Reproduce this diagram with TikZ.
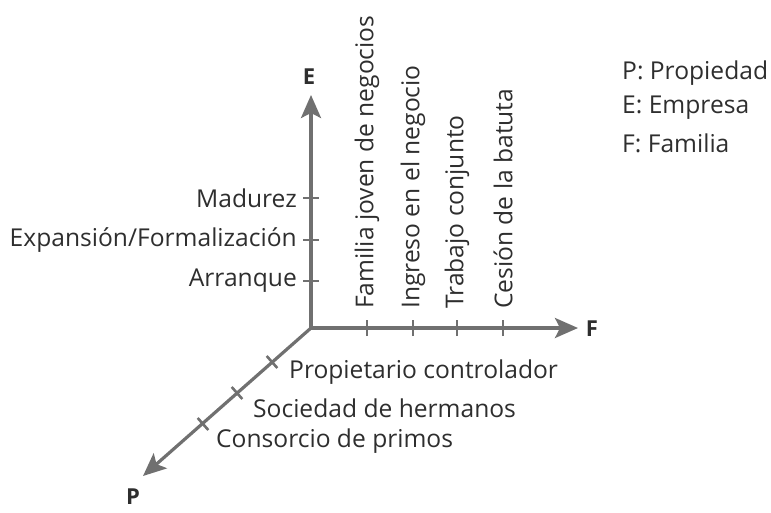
\documentclass[tikz,border=0pt]{standalone}
\usepackage{fontspec}
\setmainfont{Open Sans}
\usetikzlibrary{arrows.meta,calc}
\definecolor{axisgray}{HTML}{707070}
\definecolor{txt}{HTML}{2E2E2E}
\tikzset{
  axis/.style={draw=axisgray, line width=3.2pt, -{Stealth[length=23pt,width=20pt,inset=5pt]}},
  tick/.style={draw=axisgray, line width=2.6pt},
  lbl/.style={text=txt, font=\fontsize{24.6}{29}\selectfont, inner sep=0pt},
  axname/.style={text=txt, font=\fontsize{22}{26}\selectfont\bfseries, inner sep=0pt},
}
\begin{document}
\begin{tikzpicture}[x=1pt,y=-1pt]
\useasboundingbox (0,0) rectangle (771,512);
\coordinate (O) at (311,328);
\coordinate (Etip) at (311,95);
\coordinate (Ftip) at (578,328);
\coordinate (Ptip) at (143,476);
\draw[axis] (O) -- (Etip);
\draw[axis] (O) -- (Ftip);
\draw[axis] (O) -- (Ptip);
\node[axname] (E) at (309,77) {E};
\node[axname] (F) at (592,329) {F};
\node[axname] (P) at (133,497) {P};
% E ticks
\foreach \y/\n in {198/e1,240/e2,281/e3}{
  \coordinate (\n) at (311,\y);
  \draw[tick] ([xshift=-8pt]\n) -- ([xshift=8pt]\n);
}
\node[lbl, anchor=east] (madurez) at (297,198) {Madurez};
\node[lbl, anchor=east] (expansion) at (297,240) {Expansión/Formalización};
\node[lbl, anchor=east] (arranque) at (297,281) {Arranque};
% F ticks
\foreach \x/\n in {367/f1,413/f2,457/f3,503/f4}{
  \coordinate (\n) at (\x,328);
  \draw[tick] ([yshift=-8pt]\n) -- ([yshift=8pt]\n);
}
\node[lbl, rotate=90, anchor=west] (fam) at (367,309) {Familia joven de negocios};
\node[lbl, rotate=90, anchor=west] (ing) at (413,309) {Ingreso en el negocio};
\node[lbl, rotate=90, anchor=west] (trab) at (457,309) {Trabajo conjunto};
\node[lbl, rotate=90, anchor=west] (ces) at (503,309) {Cesión de la batuta};
% P ticks
\foreach \x/\y/\n in {272/362/p1,237/393/p2,203/424/p3}{
  \coordinate (\n) at (\x,\y);
  \draw[tick] ($(\n)+(-5.3,-6)$) -- ($(\n)+(5.3,6)$);
}
\node[lbl, anchor=west] (prop) at (289,372) {Propietario controlador};
\node[lbl, anchor=west] (soc) at (253,408) {Sociedad de hermanos};
\node[lbl, anchor=west] (cons) at (216,441) {Consorcio de primos};
% legend
\node[lbl, anchor=west] (lp) at (622,73) {P: Propiedad};
\node[lbl, anchor=west] (le) at (622,108) {E: Empresa};
\node[lbl, anchor=west] (lf) at (622,143) {F: Familia};
\end{tikzpicture}
\end{document}
